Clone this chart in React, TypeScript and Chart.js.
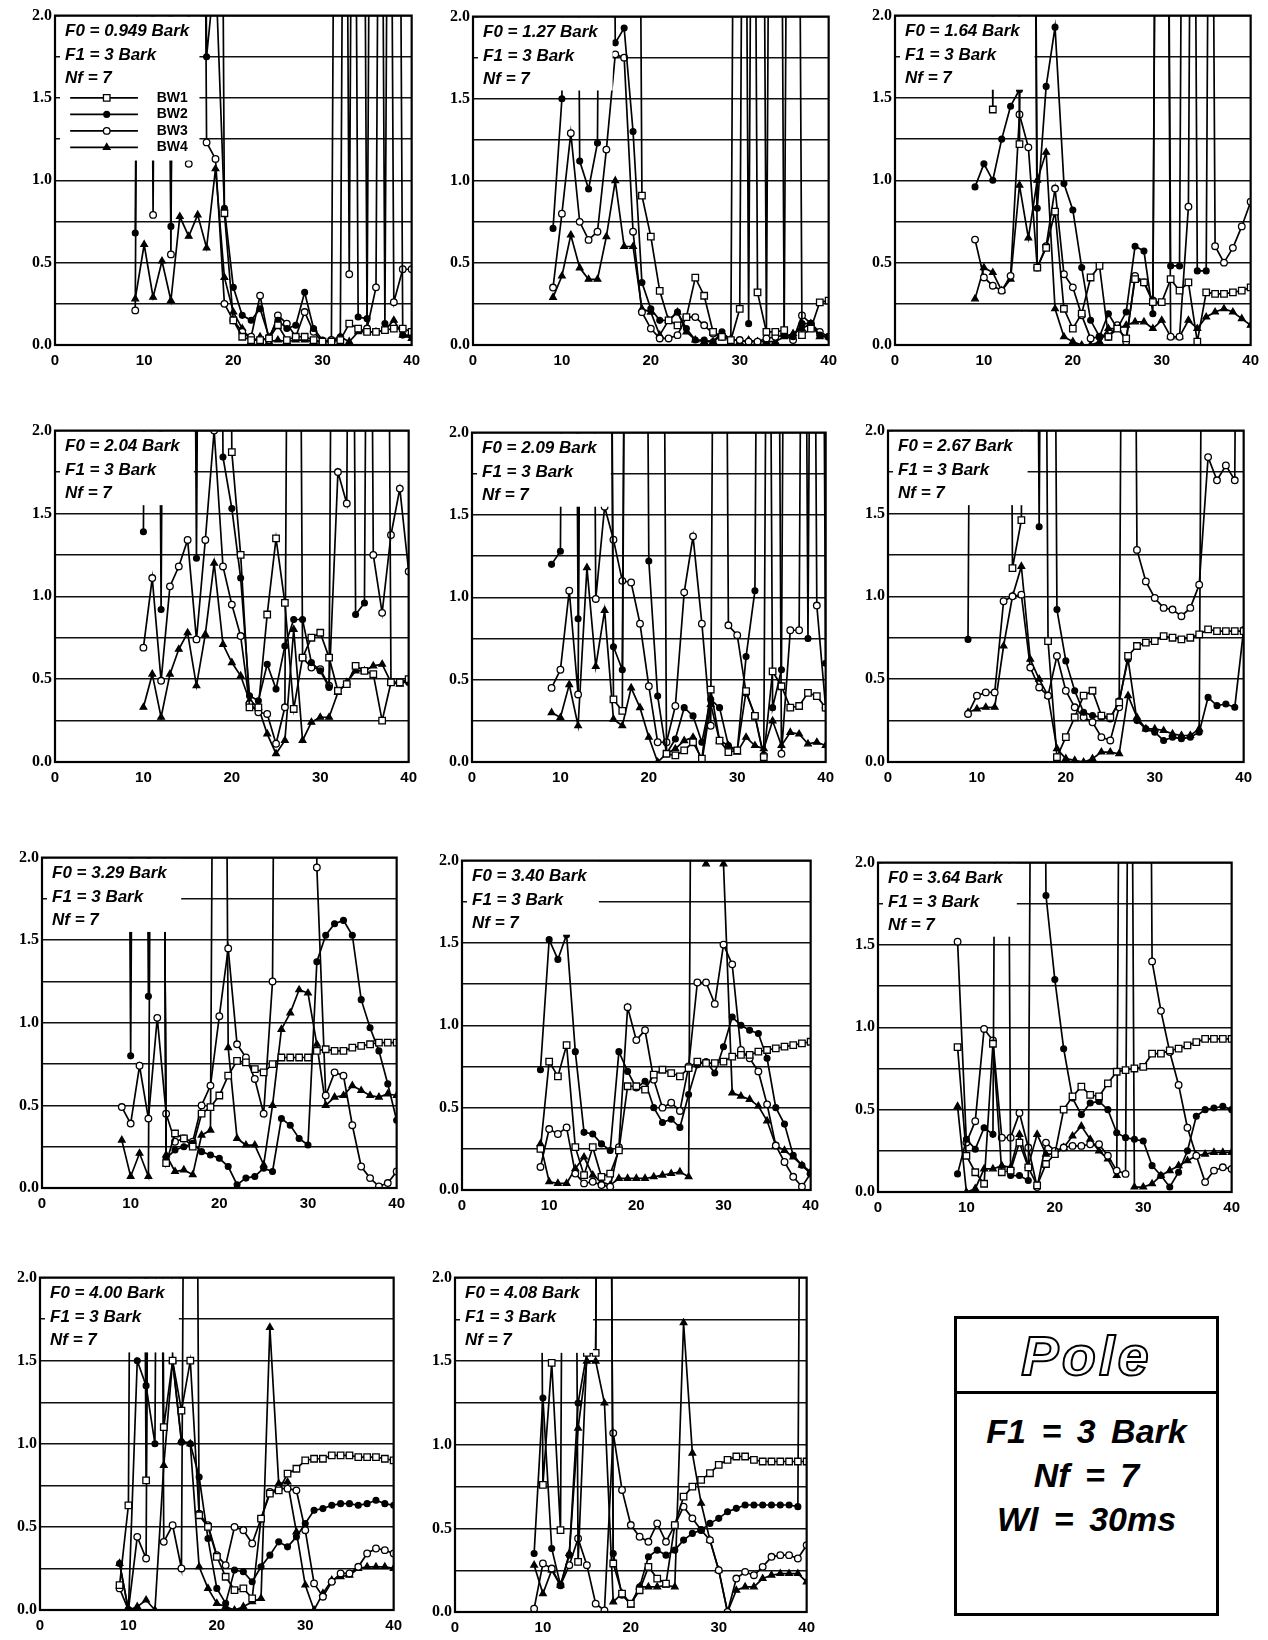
import React, { useEffect, useRef } from "react";
import { Chart, registerables } from "chart.js";
Chart.register(...registerables);

// ---------- data ----------
const xValues = [9, 10, 11, 12, 13, 14, 15, 16, 17, 18, 19, 20, 21, 22, 23, 24, 25, 26, 27, 28, 29, 30, 31, 32, 33, 34, 35, 36, 37, 38, 39, 40];
const xTicks = [0, 10, 20, 30, 40];
const yTickLabels = ["0.0", "0.5", "1.0", "1.5", "2.0"];
const seriesNames = ["BW1", "BW2", "BW3", "BW4"];
const f0Values = ["0.949", "1.27", "1.64", "2.04", "2.09", "2.67", "3.29", "3.40", "3.64", "4.00", "4.08"];
const f1Text = "F1 = 3 Bark";
const nfText = "Nf = 7";
const infoTitle = "Pole";
const infoLines = ["F1 = 3 Bark", "Nf = 7", "Wl = 30ms"];

// values beyond 2.0 run off the top of the plot (clipped)
const p1Bw1 = [10, 10, 10, 10, 10, 10, 10, 10, 10, 10, 0.8, 0.15, 0.05, 0.03, 0.03, 0.04, 0.12, 0.03, 0.05, 0.05, 0.03, 0.02, 0.02, 0.03, 0.13, 0.1, 0.08, 0.08, 0.09, 0.1, 0.1, 0.08];
const p1Bw2 = [0.68, 10, 10, 10, 0.72, 10, 10, 10, 1.75, 2.3, 0.83, 0.35, 0.18, 0.15, 0.22, 0.05, 0.15, 0.1, 0.12, 0.32, 0.1, 0.03, 0.02, 0.05, 10, 0.17, 0.16, 10, 0.13, 10, 0.06, 0.06];
const p1Bw3 = [0.21, 10, 0.79, 10, 0.55, 10, 1.1, 10, 1.23, 1.13, 0.25, 0.15, 0.08, 0.05, 0.3, 0.03, 0.18, 0.13, 0.05, 0.2, 0.08, 0.02, 0.03, 10, 0.43, 10, 0.1, 0.35, 10, 0.26, 0.46, 0.46];
const p1Bw4 = [0.28, 0.61, 0.29, 0.51, 0.27, 0.78, 0.66, 0.79, 0.59, 1.07, 0.41, 0.2, 0.1, 0.02, 0.05, 0.02, 0.03, 0.02, 0.03, 0.03, 0.02, 0.02, 0.03, 0.05, 0.02, 0.08, 0.08, 0.08, 0.09, 0.15, 0.06, 0.04];

const p2Bw1 = [10, 10, 10, 10, 10, 10, 10, 10, 10, 10, 0.91, 0.66, 0.33, 0.15, 0.12, 0.17, 0.41, 0.3, 0.08, 0.05, 0.03, 0.22, 10, 0.32, 0.08, 0.08, 0.09, 10, 0.06, 0.1, 0.26, 0.27];
const p2Bw2 = [0.71, 1.5, 10, 1.12, 0.95, 1.23, 10, 1.84, 1.93, 1.3, 0.38, 0.22, 0.15, 0.15, 0.2, 0.1, 0.03, 0.03, 0.02, 0.08, 0.03, 10, 0.13, 10, 0.08, 10, 0.06, 0.05, 0.13, 0.13, 0.06, 0.05];
const p2Bw3 = [0.35, 0.8, 1.29, 0.75, 0.64, 0.69, 1.19, 1.77, 1.75, 0.69, 0.2, 0.1, 0.04, 0.04, 0.06, 0.17, 0.17, 0.12, 0.07, 0.05, 0.03, 0.03, 0.02, 0.02, 0.04, 0.05, 0.06, 0.03, 0.18, 0.13, 0.08, 0.05];
const p2Bw4 = [0.29, 0.42, 0.67, 0.47, 0.4, 0.4, 0.66, 1.0, 0.6, 0.6, 0.22, 0.2, 0.06, 0.15, 0.2, 0.08, 0.03, 0.02, 0.02, 0.06, 0.04, 0.02, 0.03, 0.02, 0.02, 0.02, 0.05, 0.07, 0.1, 0.13, 0.05, 0.05];

const p3Bw1 = [10, 10, 1.43, 10, 10, 1.22, 10, 0.47, 0.59, 0.81, 0.22, 0.1, 0.19, 0.41, 0.48, 0.05, 0.1, 0.04, 0.4, 0.38, 0.26, 0.26, 0.4, 0.33, 0.38, 0.02, 0.32, 0.31, 0.31, 0.32, 0.33, 0.35];
const p3Bw2 = [0.96, 1.1, 1.0, 1.25, 1.45, 1.55, 10, 0.83, 1.57, 1.93, 0.98, 0.82, 0.47, 0.15, 0.05, 0.19, 0.1, 0.2, 0.6, 0.57, 0.19, 10, 0.48, 0.48, 10, 0.45, 0.45, 10, 10, 10, 10, 10];
const p3Bw3 = [0.64, 0.41, 0.36, 0.33, 0.42, 1.4, 1.2, 0.47, 0.6, 0.95, 0.43, 0.35, 0.18, 0.04, 0.05, 0.05, 0.12, 0.02, 0.42, 0.38, 0.27, 10, 0.05, 0.05, 0.84, 10, 10, 0.6, 0.5, 0.59, 0.72, 0.87];
const p3Bw4 = [0.28, 0.47, 0.44, 0.33, 0.4, 0.97, 0.65, 1.0, 1.17, 0.22, 0.05, 0.02, 0.0, 0.0, 0.02, 0.1, 0.1, 0.12, 0.14, 0.14, 0.1, 0.15, 0.05, 0.05, 0.15, 0.1, 0.17, 0.2, 0.22, 0.2, 0.16, 0.12];

const p4Bw1 = [null, 10, 10, 10, 10, 10, 10, 10, 10, 10, 10, 1.87, 1.25, 0.33, 0.33, 0.89, 1.35, 0.96, 0.32, 0.63, 0.75, 0.78, 0.63, 0.43, 0.47, 0.58, 0.55, 0.53, 0.25, 0.48, 0.48, 0.5];
const p4Bw2 = [null, 1.39, 10, 0.92, 10, 10, 10, 1.23, 10, 10, 1.84, 1.53, 1.11, 0.4, 0.37, 0.59, 0.44, 0.7, 0.86, 0.86, 0.6, 0.55, 0.45, 10, 10, 0.89, 0.96, 10, 10, 0.48, 0.48, 0.48];
const p4Bw3 = [null, 0.69, 1.11, 0.49, 1.06, 1.18, 1.34, 0.74, 1.34, 2.0, 1.18, 0.95, 0.76, 0.35, 0.3, 0.29, 0.11, 0.33, 10, 0.63, 0.57, 0.56, 0.46, 1.75, 1.56, 10, 10, 1.25, 0.9, 1.37, 1.65, 1.15];
const p4Bw4 = [null, 0.33, 0.53, 0.27, 0.53, 0.68, 0.78, 0.46, 0.77, 1.2, 0.71, 0.6, 0.52, 0.37, 0.33, 0.17, 0.05, 0.13, 0.8, 0.13, 0.24, 0.27, 0.27, 0.42, 0.48, 0.55, 0.55, 0.58, 0.59, 0.48, 0.47, 0.5];

const p5Bw1 = [10, 10, 10, 10, 10, 10, 10, 0.38, 0.31, 10, 10, 10, 10, 0.05, 0.04, 0.07, 0.12, 0.02, 0.44, 0.13, 0.06, 0.07, 0.43, 0.28, 0.03, 0.55, 0.46, 0.33, 0.34, 0.42, 0.4, 0.33];
const p5Bw2 = [1.2, 1.28, 10, 0.87, 10, 10, 10, 0.7, 0.56, 10, 10, 1.22, 0.4, 0.05, 0.14, 0.33, 0.28, 0.12, 0.38, 0.33, 0.1, 0.07, 0.64, 1.04, 10, 0.33, 0.56, 10, 10, 0.75, 10, 0.6];
const p5Bw3 = [0.45, 0.56, 1.04, 0.41, 10, 0.99, 1.55, 1.35, 1.1, 1.09, 0.84, 0.46, 0.12, 0.12, 0.34, 1.03, 1.37, 0.84, 0.22, 10, 0.83, 0.77, 0.42, 0.28, 0.04, 10, 0.05, 0.8, 0.8, 10, 0.95, 0.33];
const p5Bw4 = [0.3, 0.27, 0.47, 0.22, 1.18, 0.58, 0.92, 0.26, 0.22, 0.45, 0.33, 0.15, 0.0, 0.05, 0.08, 0.13, 0.15, 0.0, 0.35, 0.13, 0.1, 0.06, 0.15, 0.1, 0.08, 0.25, 0.1, 0.18, 0.17, 0.11, 0.12, 0.1];

const p6Bw1 = [10, 10, 10, 10, 10, 1.17, 1.46, 10, 10, 0.73, 0.03, 0.15, 0.27, 0.4, 0.43, 0.28, 0.27, 0.36, 0.64, 0.7, 0.72, 0.73, 0.76, 0.75, 0.74, 0.75, 0.77, 0.8, 0.79, 0.79, 0.79, 0.79];
const p6Bw2 = [0.74, 10, 10, 10, 10, 10, 10, 10, 1.42, 10, 0.92, 0.61, 0.43, 0.3, 0.28, 0.27, 0.26, 0.37, 0.62, 0.25, 0.2, 0.18, 0.13, 0.15, 0.14, 0.15, 0.18, 0.39, 0.34, 0.35, 0.33, 0.8];
const p6Bw3 = [0.29, 0.4, 0.42, 0.42, 0.97, 1.0, 1.01, 0.57, 0.45, 0.4, 0.64, 0.43, 0.33, 0.27, 0.24, 0.15, 0.13, 0.33, 10, 1.28, 1.09, 0.99, 0.93, 0.92, 0.88, 0.93, 1.07, 1.84, 1.7, 1.79, 1.7, 10];
const p6Bw4 = [0.3, 0.32, 0.33, 0.33, 0.7, 1.0, 1.18, 0.62, 0.5, 0.4, 0.08, 0.02, 0.01, 0.0, 0.02, 0.06, 0.06, 0.05, 0.4, 0.27, 0.2, 0.2, 0.19, 0.17, 0.16, 0.16, 0.2, 10, 10, 10, 10, 10];

const p7Bw1 = [10, 10, 10, 10, 10, 0.15, 0.33, 0.3, 0.25, 0.45, 0.49, 0.56, 0.68, 0.77, 0.76, 0.72, 0.7, 0.75, 0.79, 0.79, 0.79, 0.79, 0.83, 0.84, 0.83, 0.83, 0.85, 0.86, 0.87, 0.88, 0.88, 0.88];
const p7Bw2 = [10, 0.8, 10, 1.16, 10, 0.18, 0.23, 0.25, 0.27, 0.22, 0.2, 0.18, 0.13, 0.02, 0.06, 0.07, 0.12, 0.1, 0.42, 0.38, 0.3, 0.26, 1.37, 1.53, 1.6, 1.62, 1.53, 1.14, 0.97, 0.83, 0.63, 0.41];
const p7Bw3 = [0.49, 0.39, 0.74, 0.42, 1.03, 0.45, 0.28, 0.3, 0.28, 0.5, 0.62, 1.04, 1.45, 0.87, 0.79, 0.66, 0.45, 1.25, 10, 10, 10, 10, 1.94, 0.56, 0.7, 0.68, 0.38, 0.13, 0.06, 0.01, 0.03, 0.1];
const p7Bw4 = [0.29, 0.07, 0.21, 0.07, 10, 0.2, 0.1, 0.11, 0.08, 0.32, 0.35, 10, 0.85, 0.3, 0.26, 0.26, 0.14, 0.5, 0.96, 1.06, 1.2, 1.18, 0.87, 0.5, 0.55, 0.56, 0.62, 0.59, 0.56, 0.55, 0.57, 0.56];

const p8Bw1 = [0.25, 0.78, 0.69, 0.88, 0.26, 0.09, 0.26, 0.08, 0.1, 0.24, 0.63, 0.63, 0.61, 0.7, 0.73, 0.71, 0.69, 0.74, 0.78, 0.77, 0.77, 0.78, 0.81, 0.82, 0.82, 0.84, 0.85, 0.86, 0.87, 0.88, 0.89, 0.9];
const p8Bw2 = [0.73, 1.52, 1.4, 1.55, 0.84, 0.35, 0.34, 0.28, 0.24, 0.84, 0.72, 0.62, 0.66, 0.5, 0.41, 0.43, 0.38, 0.58, 0.76, 0.78, 0.71, 0.87, 1.05, 1.0, 0.97, 0.95, 0.8, 0.5, 0.4, 0.21, 0.15, 0.1];
const p8Bw3 = [0.14, 0.37, 0.34, 0.38, 0.1, 0.04, 0.05, 0.03, 0.02, 0.26, 1.11, 0.91, 0.97, 0.67, 0.5, 0.53, 0.48, 0.75, 1.26, 1.26, 1.13, 1.49, 1.37, 0.85, 0.8, 0.72, 0.52, 0.27, 0.17, 0.08, 0.02, 0.1];
const p8Bw4 = [0.28, 0.05, 0.04, 0.04, 0.13, 0.2, 0.09, 0.05, 0.03, 0.07, 0.07, 0.07, 0.07, 0.08, 0.09, 0.1, 0.11, 0.08, 10, 1.98, 10, 1.98, 0.59, 0.57, 0.55, 0.51, 0.42, 0.27, 0.24, 0.2, 0.15, 0.11];

const p9Bw1 = [0.88, 0.22, 0.12, 0.05, 0.9, 0.12, 0.13, 0.3, 0.15, 0.04, 0.17, 0.23, 0.5, 0.58, 0.64, 0.59, 0.58, 0.66, 0.73, 0.74, 0.75, 0.76, 0.84, 0.84, 0.86, 0.87, 0.89, 0.91, 0.93, 0.93, 0.93, 0.93];
const p9Bw2 = [0.11, 0.32, 0.26, 0.39, 0.35, 10, 0.1, 0.1, 0.07, 10, 1.8, 1.29, 0.87, 0.57, 0.47, 0.54, 0.55, 0.5, 0.36, 0.33, 0.32, 0.31, 0.16, 0.1, 0.03, 0.12, 0.25, 0.46, 0.5, 0.51, 0.52, 0.5];
const p9Bw3 = [1.52, 0.3, 0.43, 0.99, 0.92, 0.33, 0.33, 0.48, 0.27, 0.03, 0.3, 0.25, 0.27, 0.28, 0.28, 0.29, 0.29, 0.22, 0.13, 0.11, 10, 10, 1.4, 1.1, 0.85, 0.65, 0.39, 0.22, 0.06, 0.13, 0.15, 0.14];
const p9Bw4 = [0.52, 0.0, 0.02, 0.14, 0.14, 0.16, 0.15, 0.35, 0.16, 0.35, 0.23, 0.23, 0.27, 0.34, 0.4, 0.32, 0.25, 0.2, 0.1, 10, 0.03, 0.03, 0.05, 0.1, 0.13, 0.16, 0.19, 0.22, 0.23, 0.24, 0.24, 0.24];

const p10Bw1 = [0.15, 0.63, 10, 0.78, 10, 1.1, 1.5, 1.2, 1.5, 0.57, 0.5, 0.32, 0.2, 0.12, 0.13, 0.07, 0.55, 0.7, 0.72, 0.82, 0.85, 0.9, 0.91, 0.91, 0.93, 0.93, 0.93, 0.92, 0.92, 0.92, 0.91, 0.9];
const p10Bw2 = [0.28, 0.0, 1.5, 1.35, 1.0, 10, 1.5, 1.01, 1.0, 0.8, 0.43, 0.13, 0.04, 0.24, 0.23, 0.17, 0.26, 0.33, 0.41, 0.38, 0.44, 0.52, 0.6, 0.61, 0.63, 0.64, 0.64, 0.63, 0.64, 0.66, 0.64, 0.63];
const p10Bw3 = [0.13, 0.0, 0.44, 0.31, 10, 0.41, 0.51, 0.25, 10, 0.58, 0.51, 0.33, 0.27, 0.5, 0.48, 0.4, 0.55, 0.71, 0.73, 0.73, 0.72, 0.48, 0.16, 0.08, 0.17, 0.22, 0.22, 0.26, 0.34, 0.37, 0.36, 0.34];
const p10Bw4 = [0.28, 0.0, 0.02, 0.06, 0.0, 0.87, 1.5, 1.02, 1.0, 0.26, 0.13, 0.04, 0.02, 0.0, 0.02, 0.05, 0.07, 1.7, 0.76, 0.77, 0.47, 0.15, 0.0, 0.1, 0.18, 0.2, 0.21, 0.25, 0.26, 0.26, 0.26, 0.25];

const p11Bw1 = [10, 0.76, 1.49, 0.49, 10, 0.3, 1.55, 1.55, 10, 0.29, 0.11, 0.05, 0.13, 0.27, 0.2, 0.17, 0.52, 0.69, 0.75, 0.79, 0.83, 0.88, 0.91, 0.93, 0.93, 0.91, 0.9, 0.9, 0.9, 0.9, 0.9, 0.9];
const p11Bw2 = [0.35, 1.28, 0.38, 0.16, 0.34, 1.25, 1.55, 1.55, 10, 0.35, 0.1, 0.05, 0.15, 0.33, 0.37, 0.34, 0.37, 0.43, 0.47, 0.49, 0.53, 0.56, 0.6, 0.62, 0.64, 0.64, 0.64, 0.64, 0.64, 0.64, 0.63, 10];
const p11Bw3 = [0.02, 0.29, 0.26, 0.16, 0.28, 0.44, 0.28, 0.05, 0.01, 1.07, 0.73, 0.52, 0.45, 0.42, 0.53, 0.42, 0.52, 0.63, 0.56, 0.49, 0.43, 0.25, 0.0, 0.2, 0.24, 0.22, 0.27, 0.33, 0.34, 0.34, 0.32, 0.4];
const p11Bw4 = [0.28, 0.11, 0.25, 0.16, 0.35, 1.1, 1.5, 1.5, 1.25, 0.06, 0.11, 0.04, 0.15, 0.15, 0.15, 0.16, 0.15, 1.73, 0.95, 0.65, 0.43, 0.25, 0.0, 0.13, 0.15, 0.15, 0.2, 0.22, 0.23, 0.23, 0.23, 0.18];

const panelSeries = [
  [p1Bw1, p1Bw2, p1Bw3, p1Bw4],
  [p2Bw1, p2Bw2, p2Bw3, p2Bw4],
  [p3Bw1, p3Bw2, p3Bw3, p3Bw4],
  [p4Bw1, p4Bw2, p4Bw3, p4Bw4],
  [p5Bw1, p5Bw2, p5Bw3, p5Bw4],
  [p6Bw1, p6Bw2, p6Bw3, p6Bw4],
  [p7Bw1, p7Bw2, p7Bw3, p7Bw4],
  [p8Bw1, p8Bw2, p8Bw3, p8Bw4],
  [p9Bw1, p9Bw2, p9Bw3, p9Bw4],
  [p10Bw1, p10Bw2, p10Bw3, p10Bw4],
  [p11Bw1, p11Bw2, p11Bw3, p11Bw4],
];

// ---------- layout & style ----------
const plotFrames = [
  { left: 55, top: 13, right: 413, bottom: 345 },
  { left: 473, top: 14, right: 830, bottom: 345 },
  { left: 895, top: 13, right: 1252, bottom: 345 },
  { left: 55, top: 428, right: 410, bottom: 762 },
  { left: 472, top: 430, right: 827, bottom: 762 },
  { left: 888, top: 428, right: 1245, bottom: 762 },
  { left: 42, top: 855, right: 398, bottom: 1188 },
  { left: 462, top: 858, right: 812, bottom: 1190 },
  { left: 878, top: 860, right: 1233, bottom: 1192 },
  { left: 40, top: 1275, right: 395, bottom: 1610 },
  { left: 455, top: 1275, right: 808, bottom: 1612 },
];
const PAD_L = 40, PAD_T = 10, PAD_R = 14, PAD_B = 30;

const seriesStyles = [
  { pointStyle: "rect", radius: 4.6, fill: "#ffffff" },
  { pointStyle: "circle", radius: 2.9, fill: "#000000" },
  { pointStyle: "circle", radius: 3.3, fill: "#ffffff" },
  { pointStyle: "triangle", radius: 3.8, fill: "#000000" },
];

function drawMarker(ctx: CanvasRenderingContext2D, st: any, x: number, y: number) {
  ctx.beginPath();
  if (st.pointStyle === "rect") {
    const s = st.radius * Math.SQRT1_2;
    ctx.rect(x - s, y - s, 2 * s, 2 * s);
  } else if (st.pointStyle === "circle") {
    ctx.arc(x, y, st.radius, 0, Math.PI * 2);
  } else {
    const r = st.radius;
    ctx.moveTo(x, y - r);
    ctx.lineTo(x + r * 0.866, y + r * 0.5);
    ctx.lineTo(x - r * 0.866, y + r * 0.5);
    ctx.closePath();
  }
  ctx.fillStyle = st.fill;
  ctx.fill();
  ctx.lineWidth = 1.3;
  ctx.strokeStyle = "#000";
  ctx.stroke();
}

function Panel({ index }: { index: number }) {
  const ref = useRef<HTMLCanvasElement>(null);
  const fr = plotFrames[index];
  const w = fr.right - fr.left + PAD_L + PAD_R;
  const h = fr.bottom - fr.top + PAD_T + PAD_B;

  useEffect(() => {
    if (!ref.current) return;
    const isFirst = index === 0;
    const boxRightVal = isFirst ? 16.2 : 15.7;
    const boxBottomVal = isFirst ? 1.12 : 1.55;

    const overlay = {
      id: "overlay" + index,
      afterDatasetsDraw(chart: any) {
        const { ctx, chartArea: a, scales } = chart;
        const xs = scales.x, ys = scales.y;
        ctx.save();
        // opaque annotation box
        const bl = a.left + 5;
        const br = xs.getPixelForValue(boxRightVal);
        const bt = a.top + 1;
        const bb = ys.getPixelForValue(boxBottomVal);
        ctx.fillStyle = "#ffffff";
        ctx.fillRect(bl, bt, br - bl, bb - bt);
        // text
        ctx.fillStyle = "#000";
        ctx.font = 'italic bold 17px "Liberation Sans", Arial, sans-serif';
        ctx.textBaseline = "alphabetic";
        ctx.textAlign = "left";
        ctx.fillText("F0 = " + f0Values[index] + " Bark", a.left + 10, a.top + 20);
        ctx.fillText(f1Text, a.left + 10, a.top + 44);
        ctx.fillText(nfText, a.left + 10, a.top + 67);
        if (isFirst) {
          const rowsY = [1.5, 1.4, 1.3, 1.2];
          ctx.font = 'bold 14px "Liberation Sans", Arial, sans-serif';
          ctx.textBaseline = "middle";
          rowsY.forEach((v, s) => {
            const y = ys.getPixelForValue(v);
            const x0 = xs.getPixelForValue(1.7);
            const x1 = xs.getPixelForValue(9.3);
            const xm = xs.getPixelForValue(5.8);
            ctx.beginPath();
            ctx.moveTo(x0, y);
            ctx.lineTo(x1, y);
            ctx.lineWidth = 1.8;
            ctx.strokeStyle = "#000";
            ctx.stroke();
            drawMarker(ctx, seriesStyles[s], xm, y);
            ctx.fillStyle = "#000";
            ctx.fillText(seriesNames[s], xs.getPixelForValue(11.4), y);
          });
        }
        // frame
        ctx.lineWidth = 2.2;
        ctx.strokeStyle = "#000";
        ctx.strokeRect(a.left, a.top, a.right - a.left, a.bottom - a.top);
        ctx.restore();
      },
    };

    const datasets = panelSeries[index].map((vals, s) => ({
      label: seriesNames[s],
      data: xValues.map((x, i) => ({ x, y: vals[i] })),
      borderColor: "#000",
      borderWidth: 1.7,
      pointStyle: seriesStyles[s].pointStyle,
      pointRadius: seriesStyles[s].radius,
      pointBackgroundColor: seriesStyles[s].fill,
      pointBorderColor: "#000",
      pointBorderWidth: 1.3,
      tension: 0,
      spanGaps: false,
      fill: false,
    }));

    const chart = new Chart(ref.current, {
      type: "line",
      data: { datasets },
      options: {
        responsive: false,
        animation: false,
        events: [],
        layout: { padding: { left: 0, top: PAD_T, right: PAD_R, bottom: 0 } },
        plugins: { legend: { display: false }, tooltip: { enabled: false } },
        scales: {
          x: {
            type: "linear",
            min: 0,
            max: 40,
            afterBuildTicks: (scale: any) => {
              scale.ticks = xTicks.map((v) => ({ value: v }));
            },
            ticks: {
              color: "#000",
              font: { family: '"Liberation Sans", Arial, sans-serif', weight: "bold", size: 15 },
              padding: 7,
              maxRotation: 0,
              autoSkip: false,
            },
            grid: { display: false, drawTicks: false },
            border: { display: false },
            afterFit: (scale: any) => {
              scale.height = PAD_B;
            },
          },
          y: {
            type: "linear",
            min: 0,
            max: 2,
            ticks: {
              stepSize: 0.25,
              autoSkip: false,
              color: "#000",
              font: { family: '"Liberation Serif", "Times New Roman", serif', weight: "bold", size: 16 },
              padding: 3,
              callback: (v: any) => {
                const k = Number(v) * 2;
                return Math.abs(k - Math.round(k)) < 1e-9 ? yTickLabels[Math.round(k)] : "";
              },
            },
            grid: { color: "#111111", lineWidth: 1.4, drawTicks: false },
            border: { display: false },
            afterFit: (scale: any) => {
              scale.width = PAD_L;
            },
          },
        },
      } as any,
      plugins: [overlay],
    });
    return () => chart.destroy();
  }, [index]);

  return (
    <canvas
      ref={ref}
      width={w}
      height={h}
      style={{ position: "absolute", left: fr.left - PAD_L, top: fr.top - PAD_T, width: w, height: h }}
    />
  );
}

export default function App() {
  return (
    <div style={{ position: "absolute", left: 0, top: 0, width: 1268, height: 1640, background: "#fff", overflow: "hidden" }}>
      {plotFrames.map((_, i) => (
        <Panel key={i} index={i} />
      ))}
      <div
        style={{
          position: "absolute",
          left: 954,
          top: 1316,
          width: 265,
          height: 300,
          border: "3px solid #000",
          boxSizing: "border-box",
          background: "#fff",
        }}
      >
        <div
          style={{
            height: 72,
            borderBottom: "3px solid #000",
            display: "flex",
            alignItems: "center",
            justifyContent: "center",
            fontFamily: '"Liberation Sans", Arial, sans-serif',
            fontStyle: "italic",
            fontWeight: "bold",
            fontSize: 56,
            color: "#fff",
            WebkitTextStroke: "2px #000",
            letterSpacing: 3,
          }}
        >
          {infoTitle}
        </div>
        <div
          style={{
            textAlign: "center",
            fontFamily: '"Liberation Sans", Arial, sans-serif',
            fontStyle: "italic",
            fontWeight: "bold",
            fontSize: 34,
            lineHeight: "44px",
            paddingTop: 15,
            wordSpacing: 6,
            color: "#000",
          }}
        >
          {infoLines.map((t, i) => (
            <div key={i}>{t}</div>
          ))}
        </div>
      </div>
    </div>
  );
}
